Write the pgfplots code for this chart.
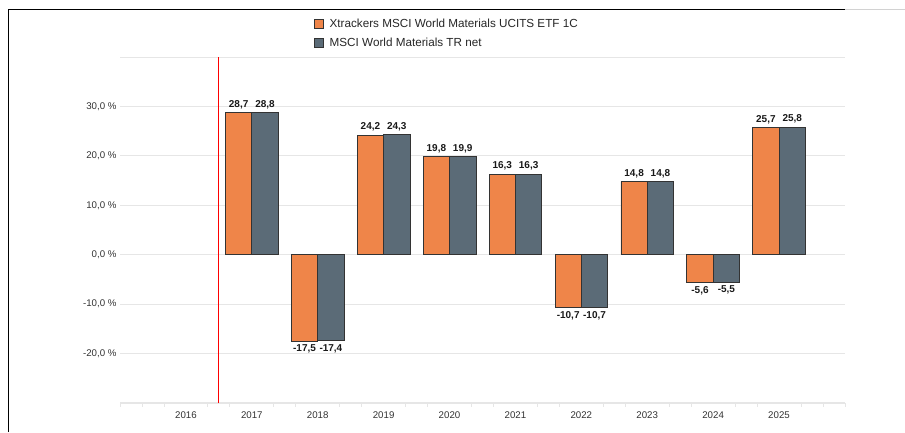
\documentclass[border=0pt]{standalone}
\usepackage{pgfplots}
\pgfplotsset{compat=1.18}
\usepackage{fontspec}
\setmainfont{Liberation Sans}
\definecolor{barorange}{HTML}{EF8549}
\definecolor{barslate}{HTML}{5B6B77}
\definecolor{gridgray}{HTML}{E6E6E6}
\definecolor{txtgray}{HTML}{333333}
\begin{document}
\begin{tikzpicture}[x=1pt,y=1pt]
\useasboundingbox (0,0) rectangle (905,432);
\draw[black, line width=1pt] (8,0) -- (8,422) -- (845,422);
\draw[gray!35, line width=1pt] (845,422) -- (905,422);
\begin{axis}[
  at={(120pt,29pt)}, anchor=south west,
  scale only axis, width=725pt, height=346pt,
  xmin=2015, xmax=2026, ymin=-30, ymax=40,
  ybar, bar width=0.4,
  axis x line*=bottom, axis y line*=left,
  x axis line style={draw=gridgray, line width=1.2pt},
  y axis line style={draw=none},
  xtick={2016,...,2025},
  xticklabels={2016,2017,2018,2019,2020,2021,2022,2023,2024,2025},
  major x tick style={draw=none},
  minor xtick={2015,2015.333,2015.667,2016.333,2016.667,2017.333,2017.667,2018.333,2018.667,2019.333,2019.667,2020.333,2020.667,2021.333,2021.667,2022.333,2022.667,2023.333,2023.667,2024.333,2024.667,2025.333,2025.667,2026},
  minor x tick style={draw=gridgray, line width=0.8pt},
  minor tick length=4pt,
  xtick align=outside,
  xticklabel style={font=\fontsize{9.7}{11}\selectfont, text=txtgray, yshift=-1pt},
  ytick={-20,-10,0,10,20,30,40},
  yticklabels={{-20,0 \%},{-10,0 \%},{0,0 \%},{10,0 \%},{20,0 \%},{30,0 \%},{}},
  yticklabel style={font=\fontsize{9.7}{11}\selectfont, text=txtgray},
  ymajorgrids, grid style={draw=gridgray, line width=0.9pt},
  major y tick style={draw=none},
  /pgf/number format/assume math mode=true,
  clip=false,
  nodes near coords style={font=\bfseries\fontsize{10}{12}\selectfont, text=black!90, /pgf/number format/.cd, fixed, fixed zerofill, precision=1, use comma, assume math mode=true},
  legend style={draw=none, fill=none, at={(0.263,1.122)}, anchor=north west,
    font=\fontsize{11.7}{13.5}\selectfont, text=black!85, row sep=5pt, legend cell align=left,
    /tikz/every odd column/.append style={column sep=4pt}},
  legend image code/.code={\draw[#1, draw=black!80, line width=0.8pt] (0pt,-4.5pt) rectangle (9pt,4.5pt);},
]
\addplot[bar shift=-0.2, fill=barorange, draw=black!80, line width=0.8pt, nodes near coords]
  coordinates {(2017,28.7) (2018,-17.5) (2019,24.2) (2020,19.8) (2021,16.3) (2022,-10.7) (2023,14.8) (2024,-5.6) (2025,25.7)};
\addlegendentry{Xtrackers MSCI World Materials UCITS ETF 1C}
\addplot[bar shift=0.2, fill=barslate, draw=black!80, line width=0.8pt, nodes near coords]
  coordinates {(2017,28.8) (2018,-17.4) (2019,24.3) (2020,19.9) (2021,16.3) (2022,-10.7) (2023,14.8) (2024,-5.5) (2025,25.8)};
\addlegendentry{MSCI World Materials TR net}
\draw[red, line width=0.8pt] (axis cs:2016.5,-30) -- (axis cs:2016.5,40);
\end{axis}
\end{tikzpicture}
\end{document}
